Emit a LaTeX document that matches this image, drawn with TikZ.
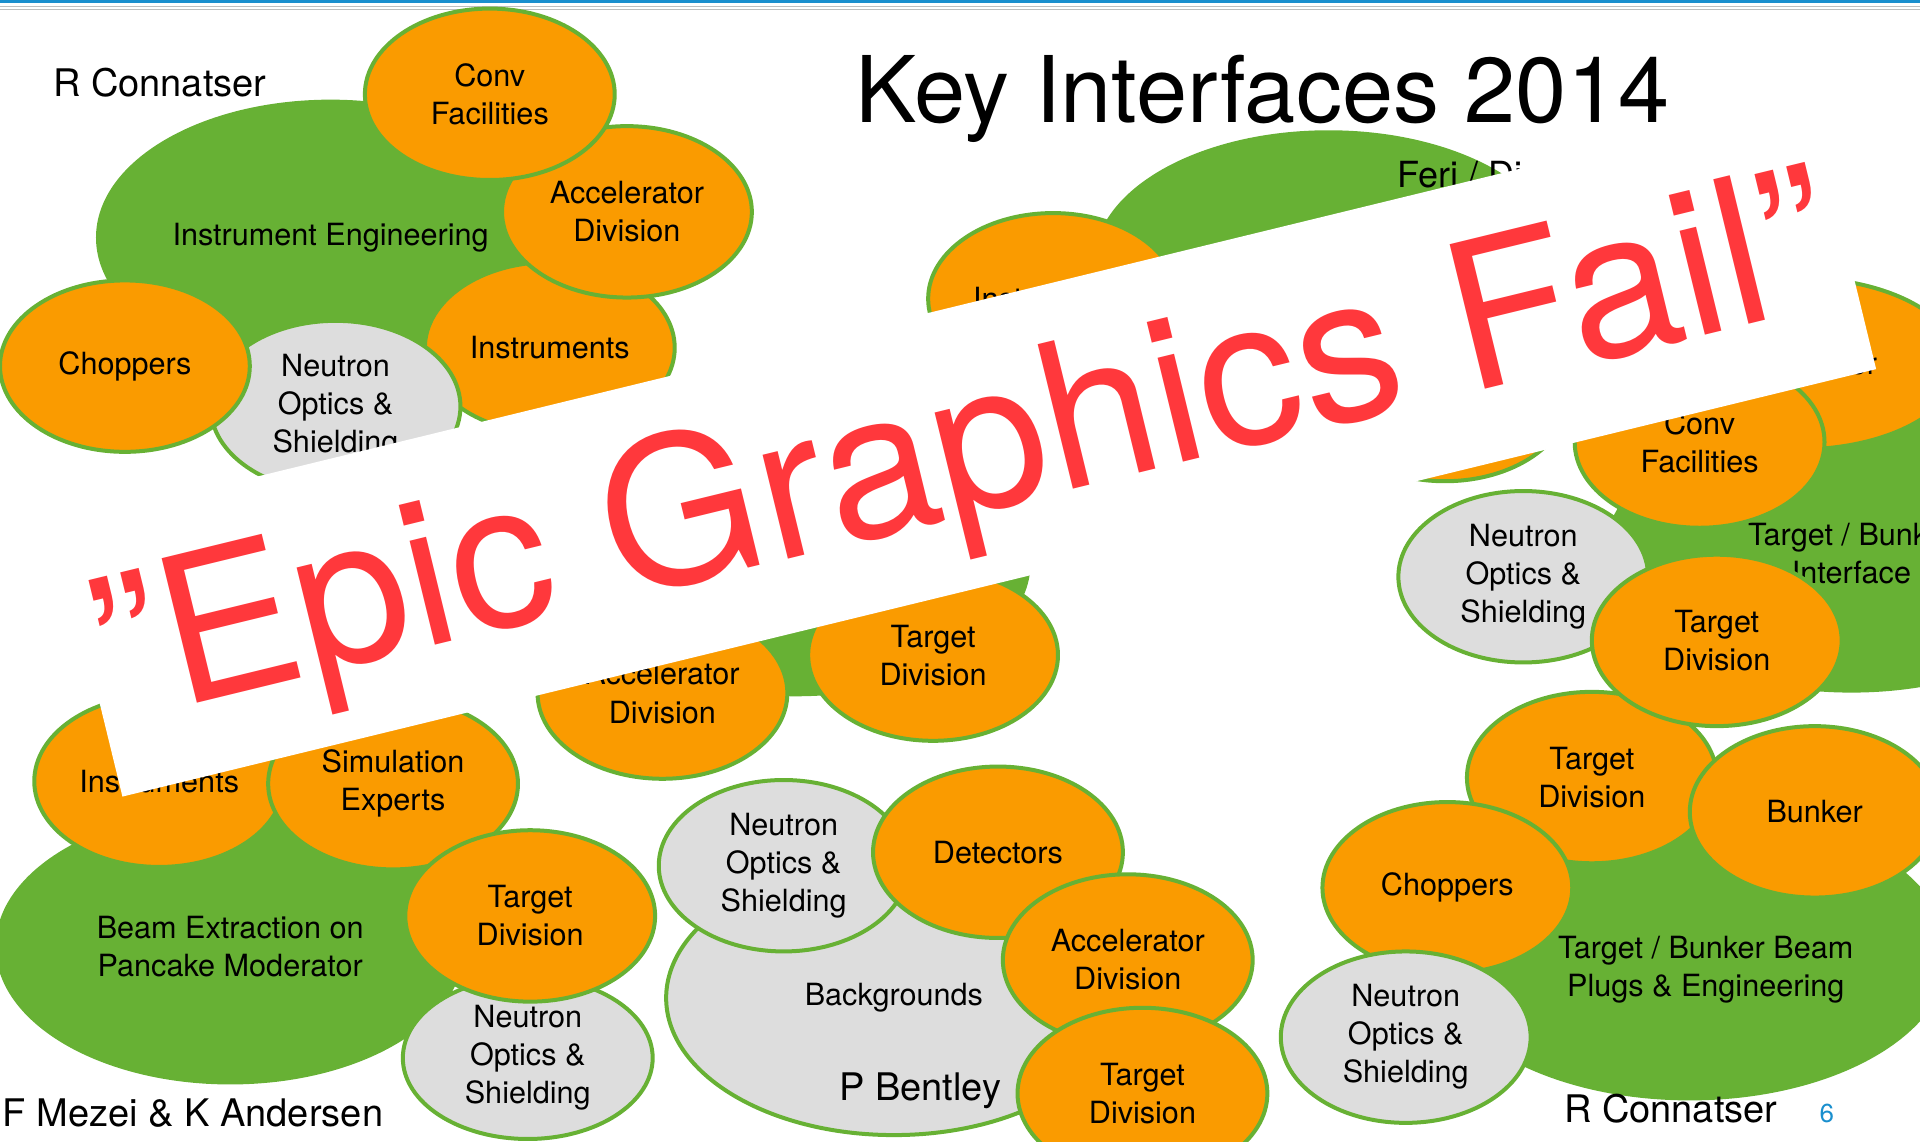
\documentclass[tikz,border=0pt]{standalone}
\usepackage{fontspec}
\setmainfont{TeX Gyre Heros}
\usetikzlibrary{shapes}

\definecolor{keygreen}{RGB}{103,177,52}
\definecolor{keyorange}{RGB}{250,155,0}
\definecolor{keygrey}{RGB}{221,221,221}
\definecolor{epicred}{RGB}{255,56,60}
\definecolor{slideblue}{RGB}{26,143,206}

\begin{document}
\begin{tikzpicture}[x=0.6122pt,y=-0.6122pt]

\tikzstyle{grp}=[ellipse, fill=keygreen, draw=keygreen, line width=2pt, inner sep=0pt, align=center, minimum width=232.6pt, minimum height=131pt, font=\fontsize{15.3}{19}\selectfont]
\tikzstyle{team}=[ellipse, fill=keyorange, draw=keygreen, line width=2pt, inner sep=0pt, align=center, minimum width=124.9pt, minimum height=85.7pt, font=\fontsize{15.3}{19}\selectfont]
\tikzstyle{optics}=[team, fill=keygrey]
\tikzstyle{who}=[anchor=base west, inner sep=0pt, font=\fontsize{19}{23}\selectfont]

	\useasboundingbox (0,0) rectangle (1568,932);
	\fill[slideblue] (0,0) rectangle (1568,2.2);
	\draw[black!25, line width=0.5pt] (0,5.2) -- (1568,5.2) (0,8) -- (1568,8);

	% top left
	\node[grp, minimum height=135.9pt] (a1) at (270,194) {Instrument Engineering};
	\node[team] (a2) at (449,284) {Instruments};
	\node[team] (a3) at (512,173) {Accelerator\\Division};
	\node[team] (a4) at (400,77) {Conv\\Facilities};
	\node[optics] (a5) at (274,332) {Neutron\\Optics \&\\Shielding};
	\node[team] (a6) at (102,299) {Choppers};

	% top middle
	\node[grp] (b1) at (1085,215) {};
	\node[anchor=west, inner sep=0pt, font=\fontsize{18}{22}\selectfont] (b2) at (1141,143) {Feri / Di};
	\node[team] (b3) at (860,244) {Instruments};

	% bottom right
	\node[grp, minimum width=257.1pt, minimum height=144.5pt] (f1) at (1380,779) {};
	\node[team] (f3) at (1300,635) {Target\\Division};
	\node[team] (f4) at (1182,725) {Choppers};
	\node[team] (f5) at (1482,663) {Bunker};
	\node[optics] (f6) at (1148,847) {Neutron\\Optics \&\\Shielding};
	\node[inner sep=0pt, align=center, font=\fontsize{15.3}{19}\selectfont] (f2) at (1393,792) {Target / Bunker Beam\\Plugs \& Engineering};

	% right
	\node[grp, minimum width=244.9pt, minimum height=137.1pt] (g1) at (1512,452) {Target / Bunker\\Interface};
	\node[team, minimum width=159.2pt] (g2) at (1470,297) {Accelerator};
	\node[team] (g3) at (1388,361) {Conv\\Facilities};
	\node[team] (g4) at (1180,323) {};
	\node[optics] (g5) at (1244,471) {Neutron\\Optics \&\\Shielding};
	\node[team] (g6) at (1402,523) {Target\\Division};

	% middle
	\node[grp] (c1) at (650,460) {};
	\node[team] (c2) at (541,566) {Accelerator\\Division};
	\node[team] (c3) at (762,535) {Target\\Division};

	% bottom left
	\node[grp, minimum height=135.9pt] (d1) at (188,773) {Beam Extraction on\\Pancake Moderator};
	\node[team] (d2) at (130,638) {Instruments};
	\node[team] (d3) at (321,640) {Simulation\\Experts};
	\node[optics, minimum height=81pt] (d5) at (431,864) {Neutron\\Optics \&\\Shielding};
	\node[team] (d4) at (433,748) {Target\\Division};

	% bottom middle
	\node[optics, minimum width=227.7pt, minimum height=137.1pt] (e1) at (730,815) {Backgrounds};
	\node[optics] (e2) at (640,707) {Neutron\\Optics \&\\Shielding};
	\node[team] (e3) at (815,696) {Detectors};
	\node[team] (e4) at (921,784) {Accelerator\\Division};
	\node[who] (e6) at (685,898.5) {P Bentley};
	\node[team] (e5) at (933,893) {Target\\Division};

	\node[who] (n1) at (43,78.5) {R Connatser};
	\node[who] (n2) at (2,920) {F Mezei \& K Andersen};
	\node[who] (n3) at (1277,917) {R Connatser};
	\node[anchor=base, inner sep=0pt, text=slideblue, font=\fontsize{13}{15}\selectfont] (pg) at (1492,917) {6};
	\node[anchor=base, inner sep=0pt, font=\fontsize{46}{50}\selectfont] (title) at (1031,100) {Key Interfaces 2014};

	\node[rectangle, fill=white, inner sep=0pt, minimum width=902.5pt, minimum height=139.5pt, rotate=13.7] (banner) at (789.1,365.3) {};
	\node[anchor=base west, inner sep=0pt, rotate=13.7, text=epicred, font=\fontsize{102}{110}\selectfont] (epic) at (92.2,590.7) {”Epic Graphics Fail”};
\end{tikzpicture}
\end{document}
